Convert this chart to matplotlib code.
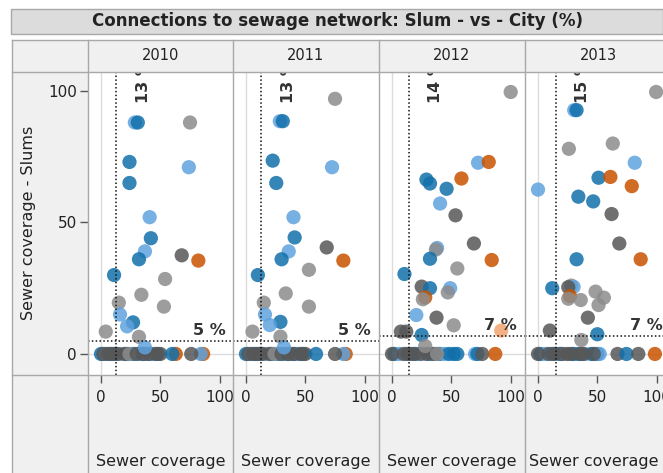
import matplotlib
matplotlib.use("Agg")
import matplotlib.pyplot as plt
from matplotlib.patches import Rectangle
from matplotlib.lines import Line2D

# ---------------- data ----------------
years = ["2010", "2011", "2012", "2013"]
city_ref = [13, 13, 14, 15]      # vertical reference line (city average, %)
slum_ref = [5, 5, 7, 7]          # horizontal reference line (slum average, %)

palette = {"db": "#1170aa", "lb": "#5fa2dd", "or": "#c85200",
           "g": "#8c8c8c", "dg": "#575757", "lo": "#f2a36e"}

# 2010
x2010 = [0, 4, 8, 12, 17, 22, 27, 32, 35, 38, 42, 44, 48, 2, 6, 10, 14, 20, 24, 30, 36, 40, 46, 50,
         63, 60, 86, 84, 76,
         28.5, 31, 75, 24, 74, 24, 41, 42, 37, 32, 68, 82, 11, 54, 34, 15, 53, 16, 27, 22, 4, 32, 37]
y2010 = [0] * 29 + [88, 88, 88, 73, 71, 65, 52, 44, 39, 36, 37.5, 35.5, 30, 28.5, 22.5, 19.5, 18, 15, 12,
                    10.5, 8.5, 6.5, 2.5]
c2010 = ["db", "lb", "db", "db", "lb", "db", "db", "lb", "db", "lb", "db", "lb", "db",
         "dg", "dg", "dg", "dg", "dg", "g", "dg", "dg", "dg", "dg", "dg",
         "or", "db", "or", "lb", "dg",
         "lb", "db", "g", "db", "lb", "db", "lb", "db", "lb", "db", "dg", "or", "db", "g", "g", "g", "g",
         "lb", "db", "lb", "g", "g", "lb"]

# 2011
x2011 = [0, 4, 8, 12, 17, 22, 27, 32, 35, 38, 42, 44, 48, 2, 6, 10, 14, 20, 24, 30, 36, 40, 46, 50,
         84, 82, 59, 75,
         28.5, 31, 75, 22.5, 72.5, 25.5, 40, 41, 36, 30, 68, 82, 10, 53, 33.5, 15, 53, 16, 29, 20, 5.5, 29, 32]
y2011 = [0] * 28 + [88.5, 88.5, 97, 73.5, 71, 65, 52, 44.3, 39, 36, 40.5, 35.5, 30, 32, 23, 19.5, 18, 15,
                    12.2, 11, 8.5, 6.6, 2.5]
c2011 = ["db", "lb", "db", "db", "lb", "db", "db", "lb", "db", "lb", "db", "lb", "db",
         "dg", "dg", "dg", "dg", "dg", "g", "dg", "dg", "dg", "dg", "dg",
         "or", "lb", "db", "dg",
         "lb", "db", "g", "db", "lb", "db", "lb", "db", "lb", "db", "dg", "or", "db", "g", "g", "g", "g",
         "lb", "db", "lb", "g", "g", "lb"]

# 2012
x2012 = [2, 6, 15, 20, 28, 33, 40, 44, 48, 52, 0, 10, 13, 18, 24, 30, 36, 38, 55,
         70, 72, 76, 87,
         100, 72.5, 81.5, 29, 32, 58.5, 46, 40.5, 53.5, 69, 38, 37, 32, 84, 55, 10.5, 25, 49, 32, 47,
         28, 26, 20.5, 37.5, 52, 7.5, 12, 25, 92, 28]
y2012 = [0] * 23 + [99.6, 72.7, 73, 66.3, 64.8, 66.7, 62.8, 57.2, 52.7, 42, 40.3, 39.7, 36.2, 35.7, 32.5,
                    30.4, 25.6, 25, 25, 23.4, 21.5, 20.8, 14.8, 13.8, 10.9, 8.5, 8.5, 7.2, 8.9, 3]
c2012 = ["db", "lb", "db", "db", "lb", "db", "db", "lb", "db", "db",
         "dg", "dg", "dg", "dg", "dg", "dg", "dg", "g", "db",
         "lb", "db", "dg", "or",
         "g", "lb", "or", "db", "db", "or", "db", "lb", "dg", "dg", "lb", "g", "db", "or", "g", "db",
         "dg", "lb", "db", "g", "or", "g", "lb", "dg", "g", "dg", "dg", "db", "lo", "g"]

# 2013
x2013 = [2, 6, 12, 18, 22, 30, 34, 40, 45, 50, 52, 0, 9, 14, 20, 25, 28, 36, 38, 47,
         67, 74.5, 84.5, 98.5,
         99.5, 30.5, 32.5, 26, 63, 81.5, 51, 61, 79, 0, 34, 46.5, 62, 68.5, 32.5, 86.5, 12,
         28, 30, 25.5, 27, 25.5, 36, 48.5, 55.5, 51, 42, 50, 10, 36.5]
y2013 = [0] * 24 + [99.6, 92.7, 92.7, 78, 80, 72.7, 67, 67.3, 63.8, 62.5, 59.8, 58, 53.2, 42, 36, 36, 25,
                    26, 25.5, 25.4, 22, 21, 20.5, 23.7, 21.4, 18.6, 13.8, 7.5, 8.9, 5.3]
c2013 = ["db", "lb", "db", "db", "lb", "db", "db", "lb", "db", "db", "lb",
         "dg", "dg", "dg", "dg", "dg", "dg", "dg", "dg", "dg",
         "dg", "db", "dg", "or",
         "g", "lb", "db", "g", "g", "lb", "db", "or", "or", "lb", "db", "db", "dg", "dg", "db", "or", "db",
         "g", "lb", "dg", "or", "g", "g", "g", "g", "g", "dg", "db", "dg", "g"]

xs = [x2010, x2011, x2012, x2013]
ys = [y2010, y2011, y2012, y2013]
cs = [c2010, c2011, c2012, c2013]

y_ticks = [0, 50, 100]
x_ticks = [0, 50, 100]

# ---------------- layout ----------------
W, H = 663, 473
fig = plt.figure(figsize=(W / 100, H / 100), dpi=100)
fig.patch.set_facecolor("white")
FONT = ["DejaVu Sans"]
TXT = "#222222"

def fx(p):
    return p / W

def fy(p):
    return 1 - p / H

border = "#a8a8a8"
grey_bg = "#f0f0f0"

# title bar
fig.add_artist(Rectangle((fx(11), fy(34)), fx(663 - 11), (34 - 9) / H, transform=fig.transFigure,
                         facecolor="#dcdcdc", edgecolor=border, lw=1, zorder=-2))
fig.text(fx(337), fy(21.5), "Connections to sewage network: Slum - vs - City (%)", ha="center",
         va="center", fontsize=12, fontweight="bold", color=TXT, family=FONT)

# table background
fig.add_artist(Rectangle((fx(12), 0), fx(663 - 12), (473 - 40) / H, transform=fig.transFigure,
                         facecolor=grey_bg, edgecolor="none", zorder=-2))

lefts = [88, 233, 379, 525]
pw = 146
top, bot = 72, 375
scale_x = 1.187
x0_off = 13
xmin = -x0_off / scale_x
xmax = xmin + pw / scale_x
ymin, ymax = -8.0, 107.2

for i, yr in enumerate(years):
    L = lefts[i]
    ax = fig.add_axes([fx(L), fy(bot), pw / W, (bot - top) / H])
    ax.set_facecolor("white")
    ax.set_xlim(xmin, xmax)
    ax.set_ylim(ymin, ymax)
    for s in ax.spines.values():
        s.set_visible(False)
    # zero lines
    ax.axvline(0, color="#dcdcdc", lw=1, zorder=1)
    ax.axhline(0, color="#dcdcdc", lw=1, zorder=1)
    # points
    ax.scatter(xs[i], ys[i], s=105, c=[palette[c] for c in cs[i]], alpha=0.85,
               edgecolors="none", zorder=3)
    # reference lines
    ax.axvline(city_ref[i], color="#111111", lw=1.1, ls=(0, (1, 1.5)), zorder=4)
    ax.axhline(slum_ref[i], color="#111111", lw=1.1, ls=(0, (1, 1.5)), zorder=4)
    ax.annotate(f"{slum_ref[i]} %", xy=(1, slum_ref[i]), xycoords=("axes fraction", "data"),
                xytext=(-8, 3), textcoords="offset pixels", ha="right", va="bottom",
                fontsize=11.5, fontweight="bold", color="#333333", family=FONT, zorder=5)
    t = ax.annotate(f"{city_ref[i]} %", xy=(city_ref[i], 95.5), xycoords="data",
                    xytext=(27, 0), textcoords="offset pixels", ha="center", va="bottom",
                    rotation=90, fontsize=11.5, fontweight="bold", color="#333333", family=FONT,
                    zorder=5, annotation_clip=False)
    t.set_clip_on(True)
    t.set_clip_path(ax.patch)
    # ticks
    ax.set_xticks(x_ticks)
    ax.set_xticklabels([str(t) for t in x_ticks], family=FONT)
    ax.tick_params(axis="x", length=6, width=1, color="#555555", pad=5, labelsize=11,
                   labelcolor=TXT)
    if i == 0:
        ax.set_yticks(y_ticks)
        ax.set_yticklabels([str(t) for t in y_ticks], family=FONT)
        ax.tick_params(axis="y", length=6, width=1, color="#555555", pad=2, labelsize=11,
                       labelcolor=TXT)
    else:
        ax.set_yticks([])
    # header
    fig.text(fx(L + pw / 2), fy(56), yr, ha="center", va="center", fontsize=10.5,
             color=TXT, family=FONT)
    cx = L + pw / 2 if i < 3 else 594
    fig.text(fx(cx), fy(461), "Sewer coverage", ha="center", va="center", fontsize=11.5,
             color=TXT, family=FONT)

# y label
fig.text(fx(29), fy(223), "Sewer coverage - Slums", rotation=90, ha="center", va="center",
         fontsize=11.5, color=TXT, family=FONT)

# table grid lines
def hline(y, x1=12, x2=663):
    fig.add_artist(Line2D([fx(x1), fx(x2)], [fy(y), fy(y)], transform=fig.transFigure,
                          color=border, lw=1, zorder=10))

def vline(x, y1=40, y2=473):
    fig.add_artist(Line2D([fx(x), fx(x)], [fy(y1), fy(y2)], transform=fig.transFigure,
                          color=border, lw=1, zorder=10))

hline(40)
hline(72)
hline(375)
vline(12)
for L in lefts:
    vline(L)

fig.savefig("out.png", dpi=100)
